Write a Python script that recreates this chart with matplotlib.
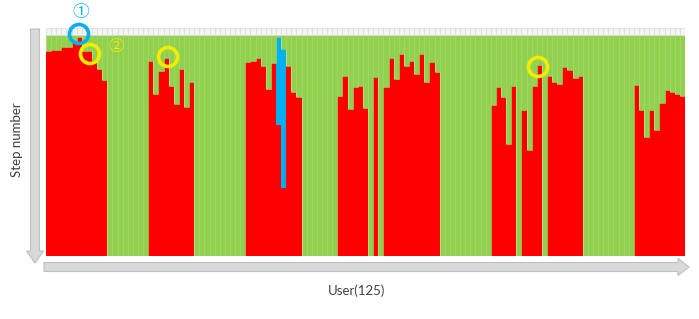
import matplotlib.pyplot as plt
import numpy as np
from matplotlib.patches import Circle, FancyArrow

# red = steps done by each user (percent of the column), blue = highlighted steps
red_steps = [
    92.8, 93.2, 93.2, 94.5, 94.5, 96.5, 99.0, 92.8, 92.5, 88.5, 84.5, 79.5,
    0, 0, 0, 0, 0, 0, 0, 0,
    88.3, 73.3, 83.8, 89.5, 77.0, 68.8, 84.5, 67.3, 78.8,
    0, 0, 0, 0, 0, 0, 0, 0, 0, 0,
    87.5, 88.3, 89.5, 86.0, 75.5, 87.2, 59.0, 30.6, 85.7, 74.3, 72.0,
    0, 0, 0, 0, 0, 0, 0,
    72.2, 81.5, 66.5, 76.5, 76.7, 66.8, 0, 80.8, 0, 76.3,
    89.5, 80.0, 91.3, 86.0, 88.3, 82.3, 91.3, 78.5, 87.5, 83.0,
    0, 0, 0, 0, 0, 0, 0, 0, 0, 0,
    68.3, 76.3, 72.0, 50.8, 77.0, 0, 65.8, 47.7, 77.0, 86.3,
    0, 81.5, 78.5, 77.5, 85.5, 84.0, 80.5, 81.5,
    0, 0, 0, 0, 0, 0, 0, 0, 0, 0,
    77.3, 65.8, 53.7, 65.8, 56.8, 69.2, 74.8, 74.0, 73.3, 72.5,
]
blue_steps = {45: 40.1, 46: 63.0}
total = 100
top_band = 3

red = np.array(red_steps)
blue = np.zeros(len(red))
for k, v in blue_steps.items():
    blue[k] = v
green = total - red - blue
users = np.arange(len(red))

fig = plt.figure(figsize=(6.99, 3.19), dpi=100)
ax = fig.add_axes([46 / 699, 1 - 256 / 319, 639 / 699, 228 / 319])

ax.bar(users, red, width=1.0, color='#ff0000', edgecolor='none', align='edge')
ax.bar(users, blue, bottom=red, width=1.0, color='#00b0f0', edgecolor='none', align='edge')
ax.bar(users, green, bottom=red + blue, width=1.0, color='#92d050',
       edgecolor='#9fd762', linewidth=0.4, align='edge')
ax.bar(users, np.full(len(red), top_band), bottom=total, width=1.0, color='#f4f4f4',
       edgecolor='#d4d4d4', linewidth=0.4, align='edge')
ax.set_xlim(0, len(red))
ax.set_ylim(0, total + top_band)
ax.axis('off')

# overlay in pixel coordinates for arrows, circles and labels
ov = fig.add_axes([0, 0, 1, 1], zorder=5)
ov.set_xlim(0, 699)
ov.set_ylim(319, 0)
ov.axis('off')
ov.patch.set_alpha(0)

gray_fc = '#d9d9d9'
gray_ec = '#bfbfbf'
ov.add_patch(FancyArrow(35, 29, 0, 222, width=9, head_width=17, head_length=12,
                        length_includes_head=False, fc=gray_fc, ec=gray_ec, lw=0.8))
ov.add_patch(FancyArrow(44, 267, 634, 0, width=9, head_width=17, head_length=11,
                        length_includes_head=False, fc=gray_fc, ec=gray_ec, lw=0.8))

ov.text(17, 140, 'Step number', rotation=90, ha='center', va='center',
        fontsize=9.5, color='#404040', family='Lato')
ov.text(357, 291, 'User(125)', ha='center', va='center',
        fontsize=9.5, color='#404040', family='Lato')

blue_c = '#00b0f0'
yellow_c = '#f2ee00'
ov.add_patch(Circle((79, 34), 9.5, fill=False, ec=blue_c, lw=2.6))
ov.add_patch(Circle((90, 54), 9.5, fill=False, ec=yellow_c, lw=2.6))
ov.add_patch(Circle((168, 57), 9.5, fill=False, ec=yellow_c, lw=2.6))
ov.add_patch(Circle((538, 67), 9.5, fill=False, ec=yellow_c, lw=2.6))

ov.text(81, 12, '①', ha='center', va='center', fontsize=12, color=blue_c,
        family=['Noto Sans CJK JP', 'DejaVu Sans'])
ov.text(116, 47, '②', ha='center', va='center', fontsize=11, color=yellow_c,
        family=['Noto Sans CJK JP', 'DejaVu Sans'])

fig.savefig('out.png', dpi=100)
